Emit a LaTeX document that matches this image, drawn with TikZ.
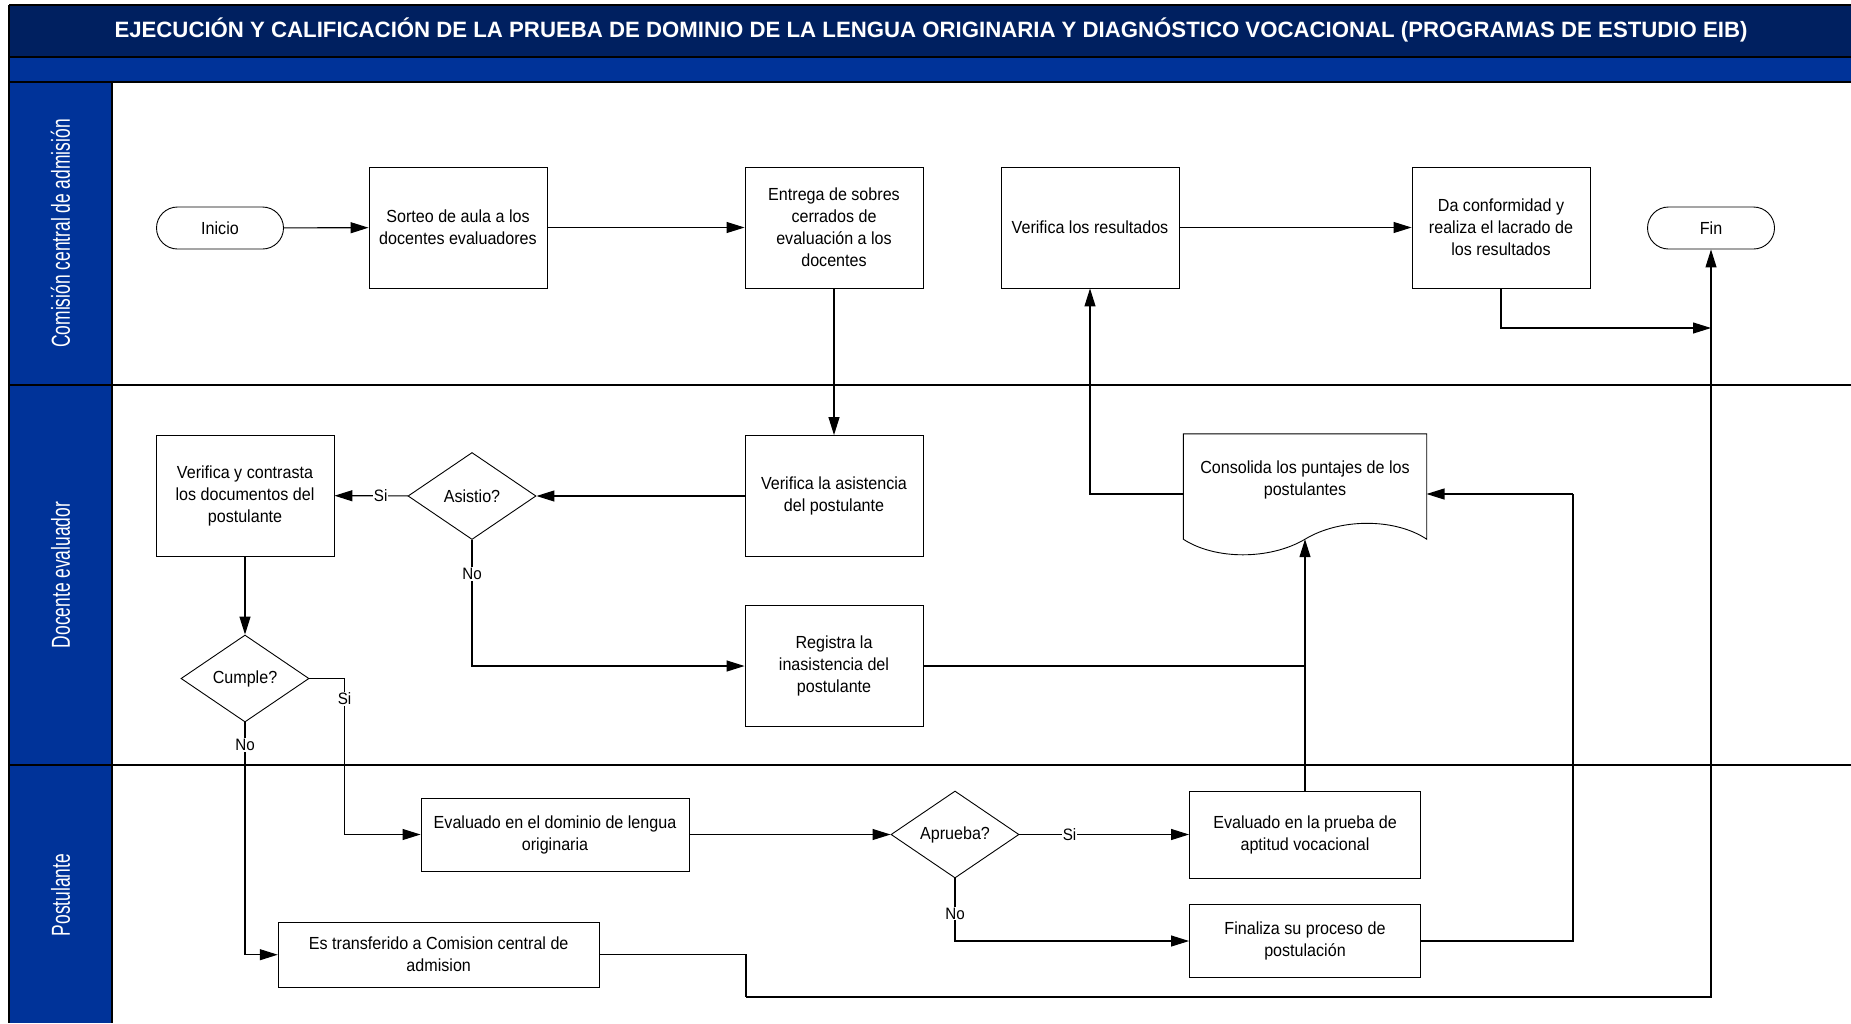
\documentclass[tikz,border=0pt]{standalone}
\usepackage{fontspec}
\setmainfont{Liberation Sans}
\newfontfamily\nodefont[FakeStretch=0.92]{Liberation Sans}
\newfontfamily\lanefont[FakeStretch=0.67]{Liberation Sans}
\usetikzlibrary{shapes.geometric,arrows.meta,calc}
\definecolor{navyband}{RGB}{0,32,96}
\definecolor{laneblue}{RGB}{0,51,153}
\begin{document}
\begin{tikzpicture}[x=1pt,y=-1pt,
  txt/.style={font=\nodefont\fontsize{17.5}{22}\selectfont,align=center},
  box/.style={txt,draw=black,line width=0.9pt,fill=white,minimum width=178,minimum height=121,inner sep=2pt},
  term/.style={txt,draw=black,line width=0.9pt,fill=white,minimum width=127,minimum height=42,rounded corners=21pt},
  dia/.style={txt,diamond,draw=black,line width=0.9pt,fill=white,minimum width=128,minimum height=87,inner sep=0pt},
  lbl/.style={font=\nodefont\fontsize{16.5}{19}\selectfont,fill=white,inner sep=1pt},
  lane/.style={rotate=90,text=white,font=\lanefont\fontsize{26}{30}\selectfont},
  sep/.style={line width=2pt,black},
  link/.style={line width=1.1pt},
  arr/.style={line width=1.1pt,-{Triangle[length=18pt,width=11pt]}}
]
\useasboundingbox (0,0) rectangle (1851,1023);
\fill[white] (0,0) rectangle (1851,1023);
% bands
\fill[navyband] (9,5) rectangle (1851,57);
\fill[laneblue] (9,57) rectangle (1851,82);
\fill[laneblue] (9,82) rectangle (112,1023);
\draw[sep] (9,5) -- (1851,5);
\draw[sep] (9,5) -- (9,1023);
\draw[sep] (9,57) -- (1851,57);
\draw[sep] (9,82) -- (1851,82);
\draw[sep] (112,82) -- (112,1023);
\draw[sep] (9,385) -- (1851,385);
\draw[sep] (9,765) -- (1851,765);

\node[text=white,font=\fontsize{22.2}{26}\selectfont\bfseries] (title) at (931,30)
  {EJECUCIÓN Y CALIFICACIÓN DE LA PRUEBA DE DOMINIO DE LA LENGUA ORIGINARIA Y DIAGNÓSTICO VOCACIONAL (PROGRAMAS DE ESTUDIO EIB)};

\node[lane] (lane1) at (60.5,233.5) {Comisión central de admisión};
\node[lane] (lane2) at (60.5,575) {Docente evaluador};
\node[lane] (lane3) at (60.5,895) {Postulante};

% lane 1
\node[term] (inicio) at (220,228) {Inicio};
\node[box] (sorteo) at (458,227.5) {Sorteo de aula a los\\docentes evaluadores};
\node[box] (entrega) at (834,227.5) {Entrega de sobres\\cerrados de\\evaluación a los\\docentes};
\node[box] (verres) at (1090,227.5) {Verifica los resultados};
\node[box] (daconf) at (1501,227.5) {Da conformidad y\\realiza el lacrado de\\los resultados};
\node[term] (fin) at (1711,228) {Fin};

% lane 2
\node[box] (vercont) at (245,495.5) {Verifica y contrasta\\los documentos del\\postulante};
\node[dia] (asistio) at (472,496) {Asistio?};
\node[box] (verasist) at (834,496) {Verifica la asistencia\\del postulante};
\node[box] (registra) at (834,666) {Registra la\\inasistencia del\\postulante};
\node[dia] (cumple) at (245,678.5) {Cumple?};
\node[minimum width=243,minimum height=105,inner sep=0pt] (cons) at (1305,486.5) {};
\draw[line width=0.9pt,fill=white] (cons.south west) -- (cons.north west) -- (cons.north east) -- (cons.south east)
  .. controls (1395,518) and (1340,518) .. (cons.south)
  .. controls (1270,560) and (1215,560) .. (cons.south west) -- cycle;
\node[txt] (constext) at (1305,480) {Consolida los puntajes de los\\postulantes};
\coordinate (consL) at (1183.5,494);
\coordinate (consR) at (1426.5,494);

% lane 3
\node[box,minimum width=268,minimum height=73] (evaldom) at (555,834.5) {Evaluado en el dominio de lengua\\originaria};
\node[dia] (aprueba) at (955,834.5) {Aprueba?};
\node[box,minimum width=231,minimum height=87] (evalprueba) at (1305,834.5) {Evaluado en la prueba de\\aptitud vocacional};
\node[box,minimum width=231,minimum height=73] (finaliza) at (1305,941) {Finaliza su proceso de\\postulación};
\node[box,minimum width=321,minimum height=65] (transf) at (438.7,954.7) {Es transferido a Comision central de\\admision};

% helper coordinates
\coordinate (cumpleR) at (344.5,678.5);
\coordinate (finJoin) at (1711,328);
\coordinate (transfB) at (746,997);
\coordinate (rightJoin) at (1573,494);

% connectors
\draw[arr] (inicio) -- (sorteo);
\draw[arr] (sorteo) -- (entrega);
\draw[arr] (entrega) -- (verasist);
\draw[arr] (verasist) -- (asistio);
\draw[arr] (asistio) -- node[lbl,pos=0.37]{Si} (vercont);
\draw[arr] (asistio.south) |- node[lbl,pos=0.136]{No} (registra.west);
\draw[arr] (vercont) -- (cumple);
\draw[link] (cumple.east) -- (cumpleR);
\draw[arr] (cumpleR) |- node[lbl,pos=0.065]{Si} (evaldom.west);
\draw[arr] (cumple.south) |- node[lbl,pos=0.049]{No} (transf.west);
\draw[arr] (evaldom) -- (aprueba);
\draw[arr] (aprueba) -- node[lbl,pos=0.295]{Si} (evalprueba);
\draw[arr] (aprueba.south) |- node[lbl,pos=0.28]{No} (finaliza.west);
\draw[arr] (evalprueba.north) -- (cons.south);
\draw[link] (registra.east) -- (registra.east -| cons.south);
\draw[link] (finaliza.east) -| (rightJoin);
\draw[arr] (rightJoin) -- (consR);
\draw[arr] (consL) -| (verres.south);
\draw[arr] (verres) -- (daconf);
\draw[arr] (daconf.south) |- (finJoin);
\draw[link] (transf.east) -| (transfB);
\draw[arr] (transfB) -| (fin.south);
\end{tikzpicture}
\end{document}
